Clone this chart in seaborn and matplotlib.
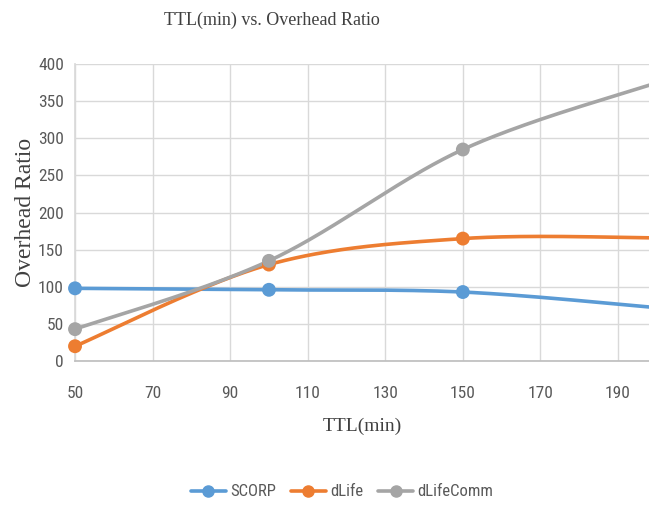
import numpy as np
import matplotlib
matplotlib.use("Agg")
import matplotlib.pyplot as plt
from matplotlib import font_manager
import seaborn as sns
import pandas as pd
from matplotlib.lines import Line2D

ttl = [50, 100, 150, 200]
scorp = [98, 96, 93, 72]
dlife = [20, 130, 165, 166]
dlifecomm = [43, 135, 285, 375]
series_names = ["SCORP", "dLife", "dLifeComm"]
colors = ["#5B9BD5", "#ED7D31", "#A5A5A5"]
yticks = [0, 50, 100, 150, 200, 250, 300, 350, 400]
xticks = [50, 70, 90, 110, 130, 150, 170, 190]

sns.set_theme(style="whitegrid")
names = {f.name for f in font_manager.fontManager.ttflist}
narrow = [n for n in ["Liberation Sans Narrow", "DejaVu Sans Condensed", "Roboto Condensed",
                      "Liberation Sans"] if n in names] + ["DejaVu Sans"]
plt.rcParams['font.family'] = narrow


def smooth(x, y, n=60):
    # Bezier smoothing similar to a spreadsheet "smoothed line"
    x = np.asarray(x, float)
    y = np.asarray(y, float)
    px = np.concatenate([[x[0]], x, [x[-1]]])
    py = np.concatenate([[y[0]], y, [y[-1]]])
    xs, ys = [], []
    for i in range(1, len(px) - 2):
        p0, p1, p2, p3 = [np.array([px[j], py[j]]) for j in (i - 1, i, i + 1, i + 2)]
        c1 = p1 + (p2 - p0) / 6.0
        c2 = p2 - (p3 - p1) / 6.0
        t = np.linspace(0, 1, n)[:, None]
        b = ((1 - t) ** 3) * p1 + 3 * ((1 - t) ** 2) * t * c1 + 3 * (1 - t) * t ** 2 * c2 + t ** 3 * p2
        xs.append(b[:, 0])
        ys.append(b[:, 1])
    return np.concatenate(xs), np.concatenate(ys)


df = pd.DataFrame({"TTL": ttl * 3,
                   "value": scorp + dlife + dlifecomm,
                   "series": sum([[s] * len(ttl) for s in series_names], [])})

fig = plt.figure(figsize=(6.49, 5.05), dpi=100)
ax = fig.add_axes([0.1156, 0.285, 0.8844, 0.588])

for name, vals, c in zip(series_names, [scorp, dlife, dlifecomm], colors):
    sx, sy = smooth(ttl, vals)
    ax.plot(sx, sy, color=c, lw=2.6, solid_capstyle="round", zorder=3)

sns.scatterplot(data=df, x="TTL", y="value", hue="series", palette=colors,
                s=100, edgecolor="none", legend=False, ax=ax, zorder=4)
for coll in ax.collections:
    coll.set_clip_on(False)

ax.set_xlim(50, 198)
ax.set_ylim(0, 400)
ax.set_xticks(xticks)
ax.set_yticks(yticks)
ax.grid(True, color="#D9D9D9", lw=1)
for s in ["top", "right"]:
    ax.spines[s].set_visible(False)
ax.spines["left"].set_color("#D9D9D9")
ax.spines["bottom"].set_color("#BFBFBF")
ax.tick_params(axis="both", length=0, labelsize=12.5, colors="#595959")
ax.tick_params(axis="x", pad=18)
ax.tick_params(axis="y", pad=8)

serif = ["Liberation Serif", "DejaVu Serif"]
ax.set_xlabel("TTL(min)", family=serif, fontsize=14, color="#404040", labelpad=12)
ax.set_ylabel("Overhead Ratio", family=serif, fontsize=17, color="#404040", labelpad=1.5)
fig.text(272 / 649, 1 - 20 / 505, "TTL(min) vs. Overhead Ratio", family=serif,
         fontsize=13, color="#404040", ha="center", va="center")

handles = [Line2D([0], [0], color=c, lw=2.6, marker="o", markersize=8) for c in colors]
fig.legend(handles, series_names, loc="center", bbox_to_anchor=(342 / 649, 1 - 492 / 505), ncol=3,
           frameon=False, fontsize=12, handlelength=2.1, columnspacing=0.9,
           labelcolor="#595959", handletextpad=0.25)

fig.savefig("out.png", dpi=100)
